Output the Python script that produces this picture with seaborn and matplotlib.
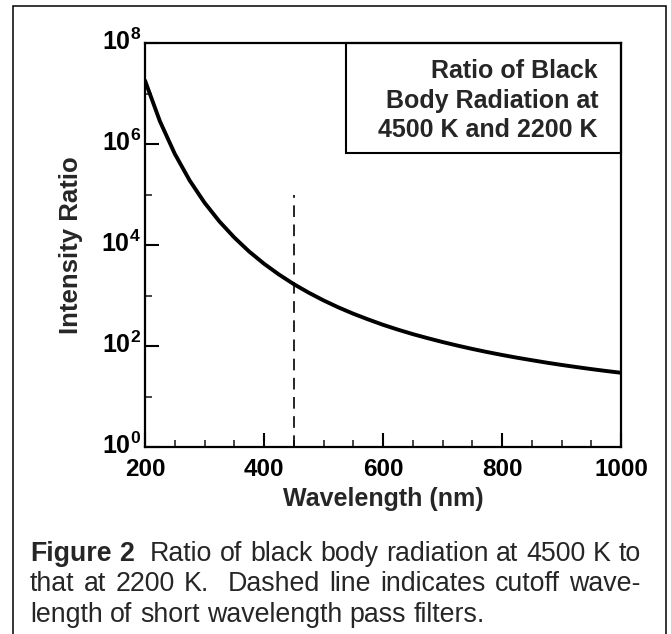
import math
import matplotlib
matplotlib.use("Agg")
import matplotlib.pyplot as plt
import matplotlib.ticker as mticker
import matplotlib.transforms as mtransforms
from matplotlib.patches import Rectangle
import seaborn as sns
import pandas as pd

# values
wavelength = [200, 225, 250, 275, 300, 325, 350, 375, 400, 425, 450, 475, 500,
              525, 550, 575, 600, 625, 650, 675, 700, 725, 750, 775, 800, 825,
              850, 875, 900, 925, 950, 975, 1000]
ratio = [1.81e7, 2.83e6, 6.41e5, 1.90e5, 6.90e4, 2.93e4, 1.41e4, 7.43e3, 4.26e3,
         2.61e3, 1.68e3, 1.14e3, 800, 582, 436, 336, 263, 211, 172, 143, 120,
         102, 87.5, 75.9, 66.5, 58.7, 52.4, 46.8, 42.2, 38.3, 34.9, 32.0, 29.5]

cutoff_wl = [450, 450]
cutoff_ratio = [1, 1e5]

x_ticks = [200, 400, 600, 800, 1000]
y_ticks = [1e0, 1e2, 1e4, 1e6, 1e8]
y_minor = [1e1, 1e3, 1e5, 1e7]

box_text = "Ratio of Black\nBody Radiation at\n4500 K and 2200 K"
caption_lines = [
    "Figure 2  Ratio of black body radiation at 4500 K to",
    "that at 2200 K.  Dashed line indicates cutoff wave-",
    "length of short wavelength pass filters.",
]

sns.set_theme(style="ticks")
plt.rcParams["font.family"] = ["Liberation Sans", "DejaVu Sans"]
plt.rcParams["mathtext.fontset"] = "custom"
plt.rcParams["mathtext.rm"] = "Liberation Sans:bold"
plt.rcParams["mathtext.bf"] = "Liberation Sans:bold"

W, H = 671, 634
fig = plt.figure(figsize=(W / 100, H / 100), dpi=100)
fig.patch.set_facecolor("white")

# outer frame of the figure panel
fig.patches.append(Rectangle((13 / W, -0.05), (666 - 13) / W, 1.05 - 6 / H,
                             transform=fig.transFigure, fill=False,
                             edgecolor="black", linewidth=1.1))

left, right, top, bottom = 145, 621, 43, 447
ax = fig.add_axes([left / W, 1 - bottom / H, (right - left) / W, (bottom - top) / H])
ax.set_facecolor("white")

df = pd.DataFrame({"Wavelength": wavelength, "Ratio": ratio})
sns.lineplot(data=df, x="Wavelength", y="Ratio", color="black", linewidth=2.8,
             estimator=None, ax=ax)
cut = pd.DataFrame({"Wavelength": cutoff_wl, "Ratio": cutoff_ratio})
sns.lineplot(data=cut, x="Wavelength", y="Ratio", color="black", linewidth=1.2,
             estimator=None, sort=False, linestyle=(0, (7, 4.5)), ax=ax)

ax.set_yscale("log")
ax.set_xlim(200, 1000)
ax.set_ylim(1, 1e8)
ax.set_xticks(x_ticks)
ax.xaxis.set_minor_locator(mticker.MultipleLocator(50))
ax.set_yticks(y_ticks)
ax.yaxis.set_minor_locator(mticker.FixedLocator(y_minor))
ax.yaxis.set_minor_formatter(mticker.NullFormatter())
ax.set_yticklabels([r"$\mathbf{10^{%d}}$" % round(math.log10(v)) for v in y_ticks])
ax.set_xticklabels([str(t) for t in x_ticks])

ax.tick_params(which="major", direction="in", length=10, width=1.5,
               colors="black", top=False, right=False)
ax.tick_params(which="minor", direction="in", length=5, width=1.2,
               top=False, right=False)
ax.tick_params(axis="x", labelsize=17.5, pad=8)
ax.tick_params(axis="y", labelsize=18, pad=3)
for lbl in ax.get_xticklabels():
    lbl.set_fontweight("bold")
# lift the y labels so the "10" part sits on the tick
lift = mtransforms.ScaledTranslation(0, 4 / 100, fig.dpi_scale_trans)
for lbl in ax.get_yticklabels():
    lbl.set_transform(lbl.get_transform() + lift)
for s in ax.spines.values():
    s.set_linewidth(1.6)
    s.set_color("black")
    s.set_visible(True)

ax.set_xlabel("Wavelength (nm)", fontsize=18, fontweight="bold", labelpad=4)
ax.set_ylabel("Intensity Ratio", fontsize=18.5, fontweight="bold", labelpad=13)

# title box in the upper right corner
bx0 = (346 - left) / (right - left)
by0 = (bottom - 153) / (bottom - top)
ax.add_patch(Rectangle((bx0, by0), 1 - bx0, 1 - by0, transform=ax.transAxes,
                       fill=False, edgecolor="black", linewidth=1.5, clip_on=False, zorder=5))
ax.text((598 - left) / (right - left), (bottom - 59) / (bottom - top), box_text,
        transform=ax.transAxes, ha="right", va="top", multialignment="right",
        fontsize=18, fontweight="bold", linespacing=1.3)

# justified caption
fig.canvas.draw()
renderer = fig.canvas.get_renderer()
cap_size = 19.3
x0, x1 = 30, 641
baselines = [561, 591, 622]
for i, line in enumerate(caption_lines):
    tokens = line.split(" ")
    words, gaps, pending = [], [], 0
    for tok in tokens:
        if tok == "":
            pending += 1
            continue
        if words:
            gaps.append(1 + pending)
        words.append(tok)
        pending = 0
    texts = []
    for j, w in enumerate(words):
        bold = (i == 0 and j < 2)
        t = fig.text(0, 1 - baselines[i] / H, w, fontsize=cap_size,
                     fontweight="bold" if bold else "normal", va="baseline", ha="left")
        texts.append(t)
    widths = [t.get_window_extent(renderer).width for t in texts]
    if i < len(caption_lines) - 1:
        unit = (x1 - x0 - sum(widths)) / sum(gaps)
    else:
        unit = 0.278 * cap_size * 100 / 72
    x = x0
    for j, t in enumerate(texts):
        t.set_x(x / W)
        x += widths[j]
        if j < len(gaps):
            x += unit * gaps[j]

fig.savefig("out.png", dpi=100, facecolor="white")
